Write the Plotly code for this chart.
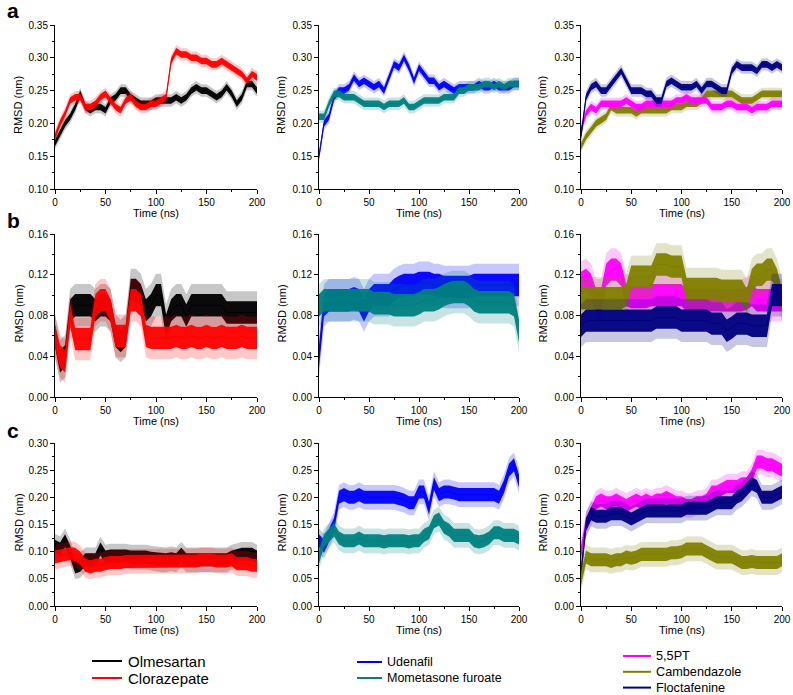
import plotly.graph_objects as go

# time axis (ns), sampled every 5 ns
time_ns = list(range(0, 201, 5))

# ---- row a ----
a_olmesartan = [0.170, 0.185, 0.200, 0.210, 0.225, 0.245, 0.225, 0.220, 0.225, 0.225,
                0.220, 0.235, 0.240, 0.250, 0.250, 0.240, 0.235, 0.230, 0.230, 0.230,
                0.235, 0.235, 0.235, 0.235, 0.240, 0.235, 0.240, 0.250, 0.255, 0.250,
                0.250, 0.245, 0.240, 0.245, 0.255, 0.245, 0.230, 0.240, 0.260, 0.260,
                0.250]
a_clorazepate = [0.180, 0.200, 0.215, 0.235, 0.240, 0.240, 0.225, 0.225, 0.230, 0.240,
                 0.245, 0.235, 0.225, 0.220, 0.235, 0.240, 0.230, 0.225, 0.225, 0.230,
                 0.230, 0.235, 0.240, 0.295, 0.310, 0.305, 0.305, 0.300, 0.300, 0.295,
                 0.295, 0.290, 0.290, 0.295, 0.290, 0.285, 0.280, 0.275, 0.265, 0.275,
                 0.270]
a_udenafil = [0.150, 0.200, 0.210, 0.240, 0.250, 0.250, 0.255, 0.270, 0.260, 0.265,
              0.260, 0.255, 0.260, 0.250, 0.270, 0.290, 0.285, 0.300, 0.285, 0.265,
              0.285, 0.275, 0.265, 0.265, 0.255, 0.260, 0.255, 0.250, 0.255, 0.255,
              0.255, 0.255, 0.260, 0.255, 0.255, 0.260, 0.255, 0.255, 0.255, 0.260,
              0.260]
a_mometasone = [0.210, 0.210, 0.230, 0.245, 0.245, 0.240, 0.240, 0.240, 0.235, 0.230,
                0.230, 0.230, 0.230, 0.225, 0.230, 0.230, 0.230, 0.235, 0.225, 0.225,
                0.230, 0.235, 0.235, 0.235, 0.235, 0.240, 0.240, 0.240, 0.250, 0.250,
                0.255, 0.255, 0.255, 0.260, 0.260, 0.255, 0.260, 0.255, 0.260, 0.260,
                0.260]
a_55pt = [0.190, 0.215, 0.225, 0.220, 0.230, 0.230, 0.230, 0.230, 0.230, 0.235,
          0.230, 0.225, 0.225, 0.230, 0.230, 0.230, 0.230, 0.230, 0.230, 0.235,
          0.235, 0.240, 0.235, 0.235, 0.235, 0.235, 0.225, 0.225, 0.225, 0.230,
          0.230, 0.225, 0.225, 0.225, 0.220, 0.225, 0.225, 0.225, 0.230, 0.230,
          0.230]
a_cambendazole = [0.165, 0.180, 0.190, 0.200, 0.205, 0.210, 0.225, 0.220, 0.220, 0.220,
                  0.220, 0.215, 0.220, 0.220, 0.220, 0.220, 0.220, 0.220, 0.225, 0.225,
                  0.225, 0.230, 0.230, 0.230, 0.235, 0.245, 0.245, 0.245, 0.245, 0.245,
                  0.245, 0.240, 0.235, 0.235, 0.235, 0.240, 0.245, 0.245, 0.245, 0.245,
                  0.245]
a_floctafenine = [0.180, 0.240, 0.255, 0.260, 0.250, 0.250, 0.260, 0.270, 0.280, 0.265,
                  0.250, 0.250, 0.250, 0.245, 0.245, 0.235, 0.235, 0.260, 0.265, 0.260,
                  0.255, 0.255, 0.255, 0.260, 0.250, 0.260, 0.260, 0.255, 0.250, 0.250,
                  0.280, 0.290, 0.285, 0.285, 0.285, 0.280, 0.290, 0.290, 0.285, 0.290,
                  0.285]

# ---- row b ----
b_olmesartan = [0.060, 0.035, 0.040, 0.085, 0.090, 0.090, 0.090, 0.090, 0.085, 0.090,
                0.090, 0.085, 0.060, 0.055, 0.060, 0.105, 0.105, 0.100, 0.085, 0.090,
                0.100, 0.100, 0.070, 0.085, 0.090, 0.090, 0.080, 0.090, 0.090, 0.090,
                0.090, 0.090, 0.090, 0.090, 0.083, 0.083, 0.083, 0.083, 0.083, 0.083,
                0.083]
b_clorazepate = [0.060, 0.040, 0.035, 0.080, 0.057, 0.057, 0.057, 0.057, 0.090, 0.095,
                 0.095, 0.085, 0.060, 0.060, 0.060, 0.095, 0.095, 0.090, 0.060, 0.058,
                 0.058, 0.058, 0.058, 0.058, 0.060, 0.058, 0.058, 0.060, 0.058, 0.058,
                 0.060, 0.058, 0.058, 0.060, 0.058, 0.058, 0.058, 0.060, 0.058, 0.058,
                 0.058]
b_udenafil = [0.040, 0.090, 0.095, 0.095, 0.095, 0.095, 0.095, 0.097, 0.095, 0.085,
              0.095, 0.100, 0.100, 0.100, 0.100, 0.105, 0.108, 0.110, 0.110, 0.110,
              0.112, 0.112, 0.112, 0.110, 0.110, 0.108, 0.108, 0.108, 0.108, 0.108,
              0.108, 0.110, 0.110, 0.110, 0.110, 0.110, 0.110, 0.110, 0.110, 0.110,
              0.110]
b_mometasone = [0.090, 0.095, 0.095, 0.095, 0.095, 0.095, 0.095, 0.095, 0.095, 0.095,
                0.095, 0.092, 0.092, 0.092, 0.092, 0.090, 0.090, 0.090, 0.090, 0.090,
                0.092, 0.095, 0.095, 0.095, 0.097, 0.100, 0.102, 0.103, 0.103, 0.103,
                0.100, 0.095, 0.093, 0.093, 0.093, 0.093, 0.093, 0.093, 0.093, 0.090,
                0.065]
b_55pt = [0.112, 0.115, 0.110, 0.095, 0.095, 0.120, 0.125, 0.125, 0.120, 0.100,
          0.098, 0.098, 0.098, 0.098, 0.100, 0.100, 0.100, 0.100, 0.100, 0.100,
          0.100, 0.095, 0.095, 0.095, 0.095, 0.095, 0.095, 0.095, 0.095, 0.095,
          0.095, 0.095, 0.095, 0.097, 0.100, 0.095, 0.095, 0.095, 0.095, 0.095,
          0.095]
b_cambendazole = [0.097, 0.097, 0.097, 0.097, 0.097, 0.097, 0.097, 0.097, 0.097, 0.100,
                  0.118, 0.118, 0.118, 0.118, 0.118, 0.130, 0.130, 0.130, 0.128, 0.128,
                  0.128, 0.106, 0.106, 0.106, 0.106, 0.106, 0.106, 0.106, 0.104, 0.104,
                  0.104, 0.104, 0.104, 0.095, 0.115, 0.120, 0.120, 0.125, 0.125, 0.115,
                  0.095]
b_floctafenine = [0.070, 0.075, 0.075, 0.075, 0.075, 0.075, 0.075, 0.075, 0.075, 0.075,
                  0.075, 0.075, 0.075, 0.075, 0.075, 0.078, 0.078, 0.078, 0.078, 0.078,
                  0.075, 0.075, 0.075, 0.075, 0.075, 0.075, 0.072, 0.072, 0.072, 0.065,
                  0.068, 0.072, 0.072, 0.072, 0.070, 0.070, 0.070, 0.070, 0.100, 0.100,
                  0.100]

# ---- row c ----
c_olmesartan = [0.110, 0.105, 0.120, 0.100, 0.072, 0.075, 0.085, 0.085, 0.085, 0.105,
                0.090, 0.092, 0.092, 0.092, 0.092, 0.090, 0.090, 0.090, 0.090, 0.088,
                0.087, 0.085, 0.085, 0.087, 0.085, 0.095, 0.085, 0.085, 0.085, 0.085,
                0.085, 0.085, 0.085, 0.085, 0.085, 0.090, 0.092, 0.095, 0.095, 0.095,
                0.090]
c_clorazepate = [0.090, 0.092, 0.095, 0.096, 0.095, 0.088, 0.075, 0.072, 0.075, 0.075,
                 0.078, 0.080, 0.080, 0.080, 0.082, 0.082, 0.082, 0.082, 0.082, 0.082,
                 0.083, 0.083, 0.083, 0.083, 0.083, 0.083, 0.083, 0.083, 0.083, 0.085,
                 0.085, 0.085, 0.083, 0.083, 0.083, 0.085, 0.078, 0.078, 0.078, 0.075,
                 0.075]
c_udenafil = [0.120, 0.110, 0.130, 0.150, 0.200, 0.205, 0.200, 0.200, 0.205, 0.200,
              0.200, 0.200, 0.200, 0.200, 0.200, 0.200, 0.198, 0.195, 0.190, 0.190,
              0.210, 0.210, 0.180, 0.225, 0.205, 0.210, 0.210, 0.208, 0.205, 0.205,
              0.205, 0.205, 0.205, 0.205, 0.205, 0.205, 0.200, 0.220, 0.250, 0.260,
              0.230]
c_mometasone = [0.090, 0.120, 0.130, 0.140, 0.125, 0.120, 0.120, 0.120, 0.125, 0.120,
                0.120, 0.120, 0.120, 0.118, 0.120, 0.120, 0.120, 0.120, 0.118, 0.120,
                0.120, 0.130, 0.135, 0.155, 0.160, 0.145, 0.140, 0.130, 0.130, 0.130,
                0.130, 0.120, 0.118, 0.120, 0.125, 0.135, 0.135, 0.130, 0.130, 0.130,
                0.125]
c_55pt = [0.100, 0.150, 0.170, 0.190, 0.195, 0.190, 0.190, 0.195, 0.190, 0.185,
          0.190, 0.195, 0.190, 0.195, 0.190, 0.195, 0.195, 0.200, 0.195, 0.190,
          0.190, 0.185, 0.185, 0.190, 0.190, 0.195, 0.210, 0.210, 0.215, 0.220,
          0.220, 0.220, 0.225, 0.225, 0.240, 0.265, 0.265, 0.260, 0.260, 0.255,
          0.250]
c_cambendazole = [0.050, 0.090, 0.085, 0.085, 0.085, 0.085, 0.082, 0.085, 0.085, 0.090,
                  0.088, 0.090, 0.095, 0.095, 0.095, 0.095, 0.095, 0.095, 0.098, 0.098,
                  0.100, 0.105, 0.105, 0.105, 0.105, 0.100, 0.095, 0.090, 0.090, 0.090,
                  0.090, 0.085, 0.080, 0.080, 0.082, 0.080, 0.080, 0.080, 0.080, 0.080,
                  0.085]
c_floctafenine = [0.060, 0.150, 0.170, 0.165, 0.165, 0.165, 0.170, 0.170, 0.170, 0.165,
                  0.160, 0.165, 0.170, 0.175, 0.175, 0.175, 0.175, 0.175, 0.175, 0.175,
                  0.175, 0.180, 0.180, 0.180, 0.180, 0.180, 0.185, 0.190, 0.190, 0.190,
                  0.190, 0.200, 0.205, 0.215, 0.225, 0.220, 0.200, 0.200, 0.200, 0.205,
                  0.210]

# half-width of the fluctuation band seen around each trace (nm)
spread_a = 0.005
spread_b = 0.011
spread_c = 0.012

colors = {
    "Olmesartan": "#000000",
    "Clorazepate": "#ff0000",
    "Udenafil": "#0000ff",
    "Mometasone furoate": "#008080",
    "5,5PT": "#ff00ff",
    "Cambendazole": "#808000",
    "Floctafenine": "#000080",
}

# panel -> list of (name, values, spread), in drawing order
panels = [
    [("Olmesartan", a_olmesartan, spread_a), ("Clorazepate", a_clorazepate, spread_a)],
    [("Udenafil", a_udenafil, spread_a), ("Mometasone furoate", a_mometasone, spread_a)],
    [("Cambendazole", a_cambendazole, spread_a), ("5,5PT", a_55pt, spread_a),
     ("Floctafenine", a_floctafenine, spread_a)],
    [("Olmesartan", b_olmesartan, spread_b), ("Clorazepate", b_clorazepate, spread_b)],
    [("Udenafil", b_udenafil, spread_b), ("Mometasone furoate", b_mometasone, spread_b)],
    [("5,5PT", b_55pt, spread_b), ("Cambendazole", b_cambendazole, spread_b),
     ("Floctafenine", b_floctafenine, spread_b)],
    [("Olmesartan", c_olmesartan, spread_c), ("Clorazepate", c_clorazepate, spread_c)],
    [("Udenafil", c_udenafil, spread_c), ("Mometasone furoate", c_mometasone, spread_c)],
    [("5,5PT", c_55pt, spread_c), ("Floctafenine", c_floctafenine, spread_c),
     ("Cambendazole", c_cambendazole, spread_c)],
]

legend_names = [
    ["Olmesartan", "Clorazepate"],
    ["Udenafil", "Mometasone furoate"],
    ["5,5PT", "Cambendazole", "Floctafenine"],
]

row_ranges = [[0.10, 0.35], [0.0, 0.16], [0.0, 0.30]]
row_dticks = [0.05, 0.04, 0.05]

W, H = 793, 695
# plot-area edges in pixels
col_px = [(55, 257), (319, 519), (581, 782)]
row_px = [(25, 189), (234, 397), (443, 606)]
ytitle_px = [18, 281, 542]

FONT = "Liberation Sans, Arial, sans-serif"


def px_x(v):
    return v / W


def px_y(v):
    return 1 - v / H


def rgba(hex_color, alpha):
    h = hex_color.lstrip("#")
    r, g, b = int(h[0:2], 16), int(h[2:4], 16), int(h[4:6], 16)
    return f"rgba({r},{g},{b},{alpha})"


fig = go.Figure()

for k, series in enumerate(panels):
    xa = "x" if k == 0 else f"x{k + 1}"
    ya = "y" if k == 0 else f"y{k + 1}"
    for name, vals, sp in series:
        col = colors[name]
        # faint outer fringe, then the dense core band
        for mult, alpha in [(1.9, 0.22), (1.0, 0.95)]:
            upper = [v + mult * sp for v in vals]
            lower = [v - mult * sp for v in vals]
            fig.add_trace(go.Scatter(
                x=time_ns + time_ns[::-1], y=upper + lower[::-1],
                mode="lines", line=dict(width=0), fill="toself",
                fillcolor=rgba(col, alpha), hoverinfo="skip",
                showlegend=False, xaxis=xa, yaxis=ya))
        fig.add_trace(go.Scatter(
            x=time_ns, y=vals, mode="lines", line=dict(color=col, width=1),
            showlegend=False, xaxis=xa, yaxis=ya, name=name))

layout = dict(
    width=W, height=H,
    margin=dict(l=0, r=0, t=0, b=0),
    paper_bgcolor="white", plot_bgcolor="white",
    font=dict(family=FONT, color="black"),
    showlegend=False,
)

annotations = []
shapes = []

for k in range(9):
    r, c = divmod(k, 3)
    xkey = "xaxis" if k == 0 else f"xaxis{k + 1}"
    ykey = "yaxis" if k == 0 else f"yaxis{k + 1}"
    ya = "y" if k == 0 else f"y{k + 1}"
    xa = "x" if k == 0 else f"x{k + 1}"
    x0, x1 = col_px[c]
    y0, y1 = row_px[r]
    layout[xkey] = dict(
        domain=[px_x(x0), px_x(x1)], anchor=ya, range=[0, 200], automargin=False,
        tick0=0, dtick=50, ticks="outside", ticklen=4, tickwidth=1, tickcolor="black",
        minor=dict(dtick=25, ticks="outside", ticklen=2, tickcolor="black"),
        showline=True, linecolor="black", linewidth=1,
        showgrid=False, zeroline=False,
        tickfont=dict(size=10, family=FONT),
    )
    layout[ykey] = dict(
        domain=[px_y(y1), px_y(y0)], anchor=xa, range=row_ranges[r], automargin=False,
        tick0=0, dtick=row_dticks[r], tickformat=".2f",
        ticks="outside", ticklen=4, tickwidth=1, tickcolor="black",
        minor=dict(dtick=row_dticks[r] / 2, ticks="outside", ticklen=2, tickcolor="black"),
        showline=True, linecolor="black", linewidth=1,
        showgrid=False, zeroline=False,
        tickfont=dict(size=10, family=FONT),
    )
    # axis titles
    annotations.append(dict(
        text="Time (ns)", x=px_x((x0 + x1) / 2), y=px_y(y1 + 24),
        xref="paper", yref="paper", showarrow=False,
        font=dict(size=11, family=FONT), xanchor="center", yanchor="middle"))
    annotations.append(dict(
        text="RMSD (nm)", x=px_x(ytitle_px[c]), y=px_y((y0 + y1) / 2 - 2),
        xref="paper", yref="paper", showarrow=False, textangle=-90,
        font=dict(size=11, family=FONT), xanchor="center", yanchor="middle"))

# hand-placed legends below each column
legend_specs = [
    # line x0, line x1, text x, first row y, row step, font size
    (92, 122, 126, 661, 17, 15),
    (357, 382, 385, 662, 16, 12.5),
    (623, 651, 654, 656, 15.8, 12.7),
]
for names, (lx0, lx1, tx, ly, step, fs) in zip(legend_names, legend_specs):
    for i, name in enumerate(names):
        yy = ly + i * step
        shapes.append(dict(type="line", xref="paper", yref="paper",
                           x0=px_x(lx0), x1=px_x(lx1), y0=px_y(yy), y1=px_y(yy),
                           line=dict(color=colors[name], width=2)))
        annotations.append(dict(
            text=name, x=px_x(tx), y=px_y(yy), xref="paper", yref="paper",
            showarrow=False, font=dict(size=fs, family=FONT),
            xanchor="left", yanchor="middle"))

# panel letters
for t, yy in [("a", 10), ("b", 221), ("c", 430)]:
    annotations.append(dict(
        text=f"<b>{t}</b>", x=px_x(13), y=px_y(yy), xref="paper", yref="paper",
        showarrow=False, font=dict(size=21, family=FONT),
        xanchor="center", yanchor="middle"))

layout["annotations"] = annotations
layout["shapes"] = shapes

fig.update_layout(**layout)

# drop the page's default body margin so the figure fills the window exactly
fig.write_html("out.html",
               config={"displayModeBar": False},
               post_script="document.body.style.margin='0';document.body.style.overflow='hidden';")
